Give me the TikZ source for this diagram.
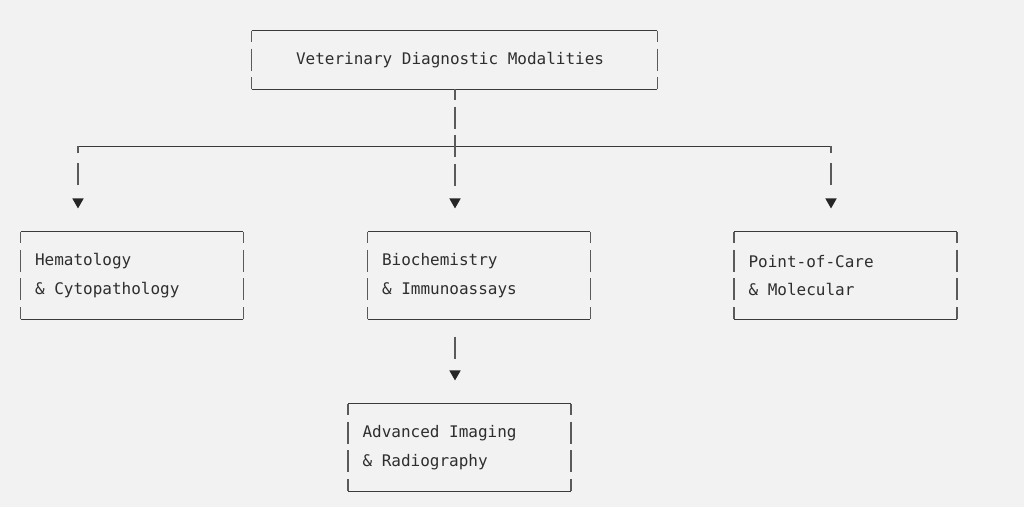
\documentclass[tikz,border=0pt]{standalone}
\usepackage{fontspec}
\setmonofont{DejaVu Sans Mono}
\usetikzlibrary{positioning,calc,arrows.meta}
\definecolor{pagebg}{HTML}{F2F2F2}
\definecolor{ink}{HTML}{2E2E2E}
\definecolor{rulegray}{HTML}{3A3A3A}
\definecolor{bargray}{HTML}{5A5A5A}
\newcommand{\modfont}{\ttfamily\fontsize{9.1}{16.3}\selectfont}
\tikzset{
  modbox/.style   = {rectangle, inner sep=0pt, minimum width=4.44cm,
                     minimum height=1.728cm, text width=3.88cm,
                     align=flush left, font=\modfont, text=ink},
  titlebox/.style = {modbox, minimum width=8.1cm, minimum height=1.148cm,
                     text width=6.34cm},
  edge/.style     = {draw=rulegray, line width=0.55pt},
  sidebar/.style  = {draw=bargray, line width=0.85pt,
                     dash pattern=on 0.44cm off 0.134cm, dash phase=0.22cm},
  spine/.style    = {sidebar, shorten >=0.47cm,
                     dash pattern=on 0.22cm off 0.134cm on 0.44cm off 0.134cm
                     on 0.44cm off 0.134cm on 0.44cm off 1cm, dash phase=0cm},
  branch/.style   = {sidebar, shorten >=0.47cm,
                     dash pattern=on 0.14cm off 0.2cm on 0.44cm off 1cm,
                     dash phase=0cm},
  drop/.style     = {sidebar, shorten >=0.47cm,
                     dash pattern=on 0.44cm off 1cm, dash phase=1.086cm},
  >={Triangle[width=0.22cm,length=0.2cm,color=black!85]}
}
\newcommand{\DrawModality}[4]{%
  % box that carries the label
  \node[#3] (#1) at #2 {#4};
  % top and bottom border
  \draw[edge] (#1.north west) -- (#1.north east);
  \draw[edge] (#1.south west) -- (#1.south east);
  % broken side bars
  \draw[sidebar] (#1.north west) -- (#1.south west);
  \draw[sidebar] (#1.north east) -- (#1.south east);
}

\begin{document}
\begin{tikzpicture}[x=0.02cm, y=-0.02cm]
    % page
    \fill[pagebg] (0,0) rectangle (1024,507);
    \useasboundingbox (0,0) rectangle (1024,507);

    \DrawModality{root}{(454.5,60)}{titlebox}
    {Veterinary Diagnostic Modalities}

    \DrawModality{hema}{(132,275.5)}{modbox}
    {Hematology\\\& Cytopathology}

    \DrawModality{bio}{(479,275.5)}{modbox}
    {Biochemistry\\\& Immunoassays}

    \DrawModality{poc}{(845.5,275.5)}{modbox}
    {Point-of-Care\\\& Molecular}

    \DrawModality{adv}{(459.5,447.5)}{modbox}
    {Advanced Imaging\\\& Radiography}

    % fan-out
    \coordinate (hub)  at (455,146.1);
    \coordinate (hubL) at (78,146.1);
    \coordinate (hubR) at (831,146.1);
    \draw[edge] (hubL) -- (hubR);

    \draw[spine,->]  (root.south -| hub) -- (hub |- bio.north);
    \draw[branch,->] (hubL) -- (hubL |- hema.north);
    \draw[branch,->] (hubR) -- (hubR |- poc.north);

    % second level
    \draw[drop,->] (hub |- bio.south) -- (hub |- adv.north);
\end{tikzpicture}
\end{document}
